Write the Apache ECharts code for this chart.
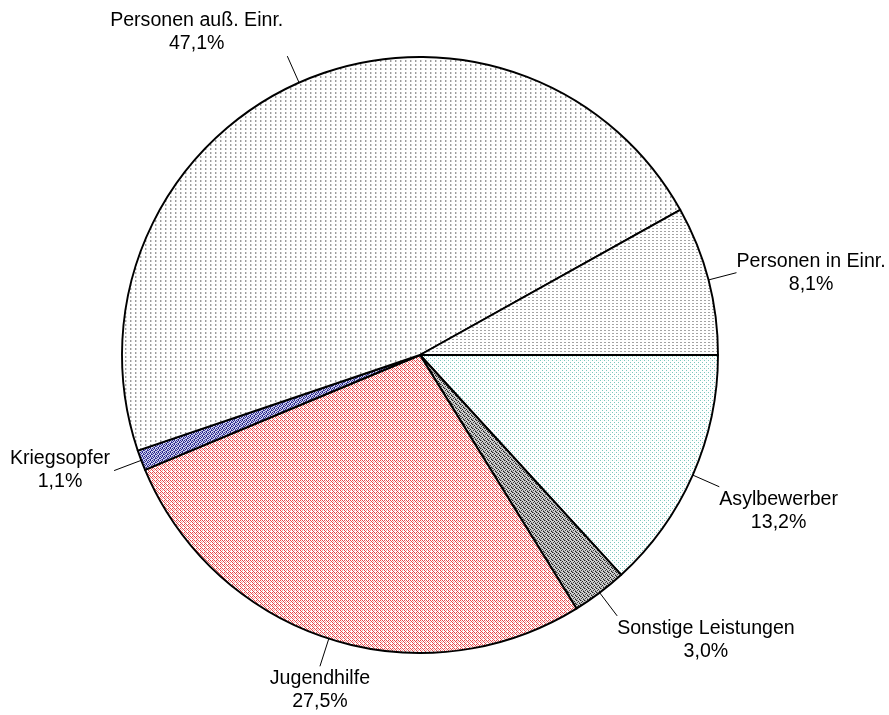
<!DOCTYPE html>
<html>
<head>
<meta charset="utf-8">
<script src="https://cdn.jsdelivr.net/npm/echarts@6/dist/echarts.min.js"></script>
<style>
html,body{margin:0;padding:0;background:#fff;}
#chart{width:889px;height:715px;}
</style>
</head>
<body>
<div id="chart"></div>
<script>
// Data (clockwise from 3 o'clock)
const categories = ['Asylbewerber', 'Sonstige Leistungen', 'Jugendhilfe', 'Kriegsopfer', 'Personen auß. Einr.', 'Personen in Einr.'];
const shares = [13.2, 3.0, 27.5, 1.1, 47.1, 8.1];

function makePattern(w, h, bg, marks) {
  const c = document.createElement('canvas');
  c.width = w; c.height = h;
  const ctx = c.getContext('2d');
  ctx.fillStyle = bg; ctx.fillRect(0, 0, w, h);
  marks.forEach(m => { ctx.fillStyle = m[4]; ctx.fillRect(m[0], m[1], m[2], m[3]); });
  return { image: c, repeat: 'repeat' };
}

const teal = '#7cc6be', red = '#e8474b', blue = '#26268a';
const fills = [
  makePattern(4, 4, '#ffffff', [[0,0,1,1,teal],[2,2,1,1,teal],[2,0,1,1,'#eef8f6']]),
  makePattern(4, 4, '#d0d0d0', [[0,0,1,1,'#202020'],[2,1,1,1,'#202020'],[1,2,1,1,'#404040'],[3,3,1,1,'#202020'],[1,0,1,1,'#888'],[3,2,1,1,'#888'],[0,3,1,1,'#999']]),
  makePattern(4, 4, '#ffffff', [[0,0,1,1,red],[2,0,1,1,red],[1,1,1,1,'#f3a0a2'],[3,1,1,1,red],[0,2,1,1,red],[2,2,1,1,'#f3a0a2'],[1,3,1,1,red]]),
  makePattern(4, 4, '#d0d0ee', [[0,0,1,1,blue],[2,0,1,1,blue],[1,1,1,1,blue],[3,1,1,1,'#5050a8'],[3,2,1,1,blue],[0,2,1,1,'#4848a4'],[2,3,1,1,blue],[1,3,1,1,'#7070b8']]),
  makePattern(5, 4, '#ffffff', [[0,0,1,2,'#9c9c9c'],[1,0,1,2,'#d6d6d6']]),
  makePattern(4, 3, '#ffffff', [[0,0,2,1,'#a4a4a4']])
];

const chart = echarts.init(document.getElementById('chart'), null, { renderer: 'canvas' });
chart.setOption({
  backgroundColor: '#ffffff',
  animation: false,
  series: [{
    type: 'pie',
    center: [420, 355],
    radius: 298,
    startAngle: 0,
    clockwise: true,
    avoidLabelOverlap: false,
    data: categories.map((n, i) => ({ name: n, value: shares[i], itemStyle: { color: fills[i] } })),
    itemStyle: { borderColor: '#000', borderWidth: 1.9 },
    emphasis: { disabled: true },
    label: {
      show: true,
      position: 'outside',
      formatter: p => p.name + '\n' + p.value.toFixed(1).replace('.', ',') + '%',
      fontFamily: 'Liberation Sans, Arial, sans-serif',
      fontSize: 19.6,
      lineHeight: 23,
      color: '#000',
      align: 'center'
    },
    labelLine: { show: true, length: 29, length2: 0, lineStyle: { color: '#000', width: 1 } },
    labelLayout: function (params) {
      const pts = params.labelLinePoints;
      if (!pts) return {};
      const p0 = pts[0], p1 = pts[1];
      let dx = p1[0] - p0[0], dy = p1[1] - p0[1];
      const len = Math.hypot(dx, dy) || 1; dx /= len; dy /= len;
      const w = params.labelRect.width, h = params.labelRect.height;
      let x = p1[0], y = p1[1];
      if (Math.abs(dx) >= 0.35) x += (dx > 0 ? 1 : -1) * (w / 2 + (dx > 0 ? 0 : 4));
      if (Math.abs(dy) >= 0.38) y += (dy > 0 ? 1 : -1) * (h / 2 + 1);
      return { x: x, y: y, align: 'center', verticalAlign: 'middle', labelLinePoints: [p0.slice(), p1.slice()] };
    }
  }]
});
</script>
</body>
</html>
